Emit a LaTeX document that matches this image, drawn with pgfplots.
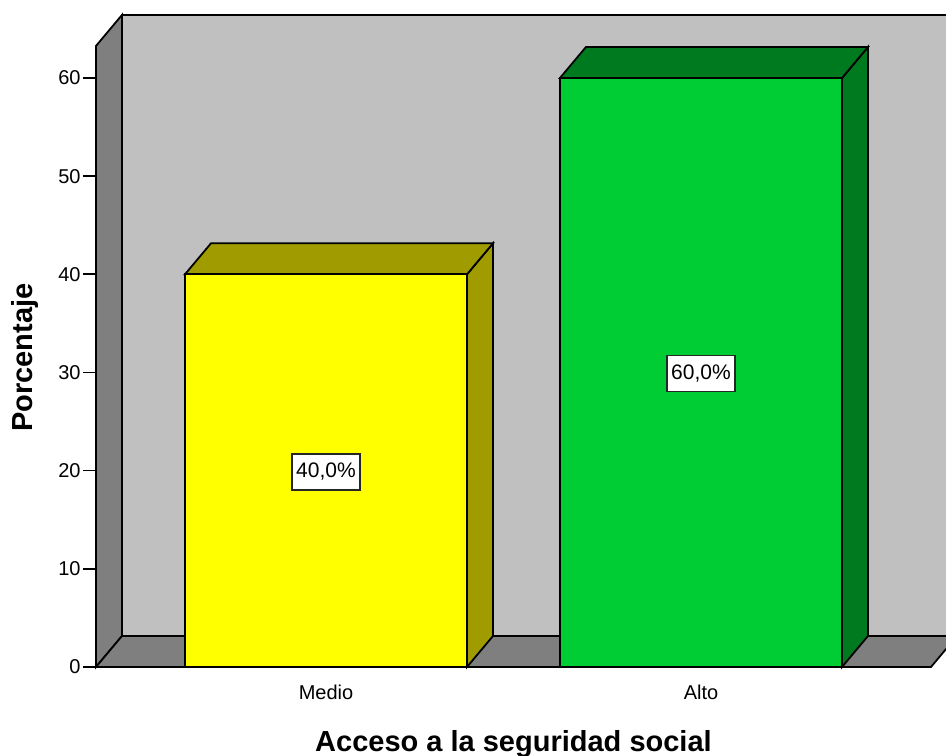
\documentclass[border=0pt]{standalone}
\usepackage{pgfplots}
\pgfplotsset{compat=1.18}
\usepackage{fontspec}
\setmainfont{Liberation Sans}
\definecolor{backwall}{HTML}{C0C0C0}
\definecolor{sidewall}{HTML}{7F7F7F}
\definecolor{medio}{HTML}{FFFF00}
\definecolor{mediodark}{HTML}{A09C00}
\definecolor{alto}{HTML}{00CC33}
\definecolor{altodark}{HTML}{007A1F}
\begin{document}
\begin{tikzpicture}
\begin{axis}[
  x=0.5pt, y=4.9085pt,
  xmin=96, xmax=946, ymin=0, ymax=66.42,
  clip=false,
  axis line style={draw=none},
  ytick={0,10,20,30,40,50,60},
  ytick pos=left,
  tick align=outside,
  major tick length=6.5pt,
  y tick style={black, line width=0.8pt},
  yticklabel style={font=\fontsize{10}{12}\selectfont, inner sep=1pt},
  xtick={326,701},
  xticklabels={Medio,Alto},
  xtick pos=bottom,
  x tick style={draw=none},
  xticklabel style={font=\fontsize{10}{12}\selectfont, yshift=1pt},
  /pgf/number format/assume math mode=true,
  every axis plot/.append style={line width=0.9pt, draw=black},
]
% back wall
\addplot[fill=backwall] coordinates {(122,3.158) (957,3.158) (957,66.42) (122,66.42)} -- cycle;
% left wall
\addplot[fill=sidewall] coordinates {(96,0) (122,3.158) (122,66.42) (96,63.26)} -- cycle;
% floor
\addplot[fill=sidewall] coordinates {(96,0) (931,0) (957,3.158) (122,3.158)} -- cycle;
% Medio bar (40)
\addplot[fill=mediodark] coordinates {(467,0) (493,3.158) (493,43.158) (467,40)} -- cycle;
\addplot[fill=mediodark] coordinates {(185,40) (467,40) (493,43.158) (211,43.158)} -- cycle;
\addplot[fill=medio] coordinates {(185,0) (467,0) (467,40) (185,40)} -- cycle;
% Alto bar (60)
\addplot[fill=altodark] coordinates {(842,0) (868,3.158) (868,63.158) (842,60)} -- cycle;
\addplot[fill=altodark] coordinates {(560,60) (842,60) (868,63.158) (586,63.158)} -- cycle;
\addplot[fill=alto] coordinates {(560,0) (842,0) (842,60) (560,60)} -- cycle;
% front left edge line
\draw[line width=0.9pt] (axis cs:96,0) -- (axis cs:96,63.26);
% data labels
\node[fill=white, draw=black!85, line width=0.9pt, inner xsep=2.2pt, minimum height=18pt, font=\fontsize{10.5}{12}\selectfont] at (axis cs:326,19.9) {40,0\%};
\node[fill=white, draw=black!85, line width=0.9pt, inner xsep=2.2pt, minimum height=18pt, font=\fontsize{10.5}{12}\selectfont] at (axis cs:701,29.9) {60,0\%};
% axis titles
\node[font=\fontsize{14.5}{16}\selectfont\bfseries] at (axis cs:513.5,-7.85) {Acceso a la seguridad social};
\node[font=\fontsize{14.5}{16}\selectfont\bfseries, rotate=90] at (axis cs:25,31.5) {Porcentaje};
\coordinate (bl) at (axis cs:0,-9.066);
\coordinate (tr) at (axis cs:946,67.94);
\end{axis}
\pgfresetboundingbox
\path[use as bounding box] (bl) rectangle (tr);
\end{tikzpicture}
\end{document}
